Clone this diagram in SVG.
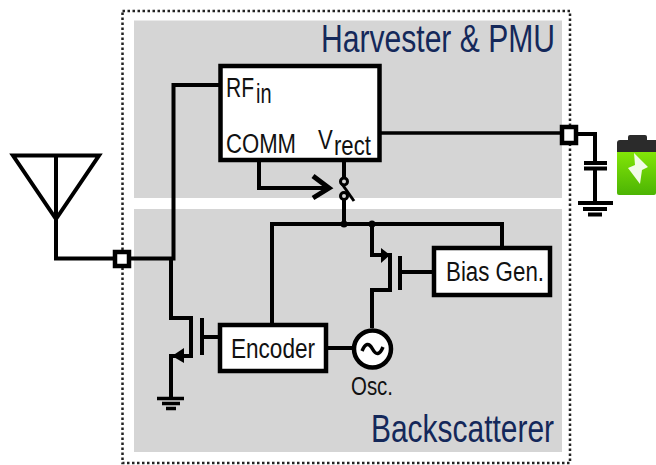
<svg xmlns="http://www.w3.org/2000/svg" width="656" height="465" viewBox="0 0 656 465">
<defs>
<linearGradient id="g" x1="0" y1="0" x2="0" y2="1"><stop offset="0" stop-color="#8aec08"/><stop offset="1" stop-color="#4cb404"/></linearGradient>
</defs>
<style>
.w{fill:none;stroke:#000;stroke-width:4;stroke-linejoin:miter}
.b{fill:#fff;stroke:#000;stroke-width:4.500}
.t{font-family:"Liberation Sans",Arial,sans-serif;fill:#111}
.h{font-family:"Liberation Sans",Arial,sans-serif;fill:#14285a;font-size:38px}
.s{stroke:#000;stroke-width:4;fill:none}
</style>
<rect width="656" height="465" fill="#fff"/>
<g id="panels">
<rect id="harvester-panel" x="134" y="20.500" width="428" height="177.500" fill="#d5d5d5"/>
<rect id="backscatter-panel" x="134" y="209" width="428" height="243" fill="#d5d5d5"/>
<rect id="boundary" x="122.500" y="11" width="447.500" height="452" fill="none" stroke="#222" stroke-width="2.500" stroke-dasharray="2.500 2.500"/>
<text class="h" x="321" y="52" textLength="234" lengthAdjust="spacingAndGlyphs">Harvester &amp; PMU</text>
<text class="h" x="371" y="442" textLength="183" lengthAdjust="spacingAndGlyphs">Backscatterer</text>
</g>
<g id="connectors">
<path class="w" d="M13 155.500H99L56 219ZM56 155.500V258.500H121"/>
<path class="w" d="M121 258.500H173.500V85H220"/>
<path class="w" d="M171 258.500V318H191V356H171V398"/>
<path class="w" d="M202 337H220"/>
<path class="w" style="stroke-width:3.500" d="M380 133H569"/>
<path class="w" d="M569 134H595V163M595 168V203"/>
<path class="w" d="M259 160V188H327"/>
<path class="w" d="M344 160V178M344 200V224M272 325V224H502V248"/>
<path class="w" d="M372 224V255H390V290H372V328"/>
<path class="w" d="M400 272H434"/>
<path class="w" d="M326 348H353"/>
</g>
<g id="antenna-port"><rect class="b" x="115" y="252" width="14" height="14"/></g>
<g id="output-port"><rect class="b" x="562" y="127" width="14" height="16"/></g>
<g id="rf-block">
<rect class="b" x="220.500" y="66" width="159" height="94"/>
<text class="t" transform="translate(226 97) scale(.78 1)" font-size="27">RF</text>
<text class="t" transform="translate(256 103) scale(.74 1)" font-size="27">in</text>
<text class="t" x="226" y="153" font-size="27" textLength="70" lengthAdjust="spacingAndGlyphs">COMM</text>
<text class="t" transform="translate(318 149) scale(.82 1)" font-size="27">V</text>
<text class="t" transform="translate(334 155) scale(.82 1)" font-size="27">rect</text>
</g>
<g id="switch">
<path d="M313 176L329 188L313 198" fill="none" stroke="#000" stroke-width="5"/>
<circle cx="344" cy="181.500" r="3.500" fill="#d5d5d5" stroke="#000" stroke-width="3"/>
<circle cx="344" cy="196" r="3.500" fill="#d5d5d5" stroke="#000" stroke-width="3"/>
<path d="M342 184L354 201" stroke="#000" stroke-width="3"/>
<circle cx="344" cy="224" r="3.500" fill="#000"/><circle cx="372" cy="224" r="3.500" fill="#000"/>
</g>
<g id="encoder"><rect class="b" x="220" y="325" width="106" height="46"/><text class="t" x="231" y="358" font-size="28" textLength="84" lengthAdjust="spacingAndGlyphs">Encoder</text></g>
<g id="bias-gen"><rect class="b" x="434" y="248" width="116" height="47"/><text class="t" x="446" y="281" font-size="27" textLength="98" lengthAdjust="spacingAndGlyphs">Bias Gen.</text></g>
<g id="oscillator"><circle class="b" cx="372.500" cy="349" r="18.500"/><path d="M362 351Q367 339 372.500 349T383 347" fill="none" stroke="#000" stroke-width="3.500"/><text class="t" x="351" y="395" font-size="26" textLength="42" lengthAdjust="spacingAndGlyphs">Osc.</text></g>
<g id="nmos">
<path d="M202 318V355" class="s"/>
<path d="M172 356L184 348V363Z" fill="#000"/>
<path d="M157 398.500H184M162 403.500H180M166 408.500H176" stroke="#000" stroke-width="3.500"/>
</g>
<g id="pmos">
<path d="M400 256V290" class="s"/>
<path d="M390 255L381 248V263Z" fill="#000"/>
</g>
<g id="capacitor">
<path d="M584 163H607M584 168.500H607" class="s"/>
<path d="M578 203H613M583 209H607M588 214.500H602" class="s"/>
</g>
<g id="battery">
<rect x="617" y="146" width="39" height="49" rx="2" fill="url(#g)"/>
<path d="M617 152V143Q617 140 620 140H628V137Q628 135 630 135H645Q647 135 647 137V140H656V152Z" fill="#2b2b2b"/>
<path d="M634 153L648 167L642 170L640 184L628 168L635 165Z" fill="#f2fbe8"/>
</g>
</svg>
